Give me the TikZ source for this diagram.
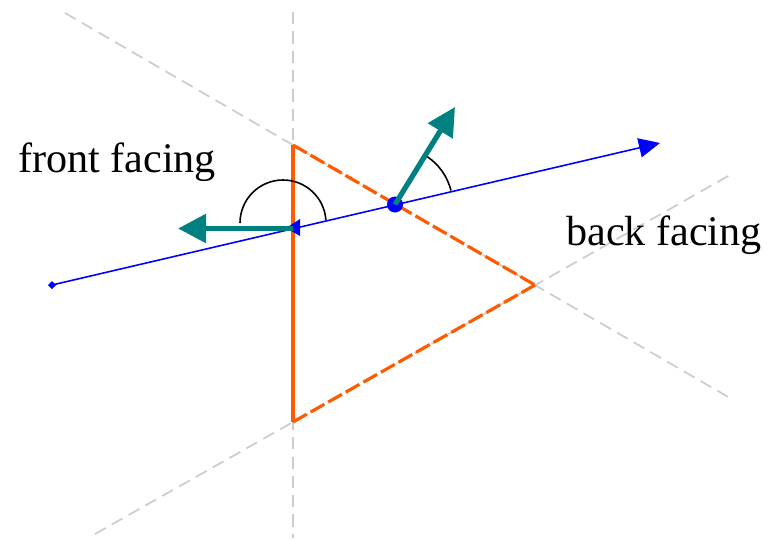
\documentclass[tikz,border=0pt]{standalone}
\usepackage{fontspec}
\setmainfont{Liberation Serif}
\usetikzlibrary{arrows.meta}

\definecolor{edgeorange}{RGB}{255,90,0}
\definecolor{guidegray}{RGB}{205,205,205}
\definecolor{normalteal}{RGB}{0,128,128}
\definecolor{rayblue}{RGB}{0,0,255}

\begin{document}
\begin{tikzpicture}[x=0.02cm,y=-0.02cm,
    guide/.style={guidegray, line width=1pt, dash pattern=on 7pt off 4pt},
    edge/.style={edgeorange, line width=1.8pt},
    normal/.style={normalteal, line width=3pt, -{Triangle[length=16pt,width=16pt]}},
    angarc/.style={black, line width=0.9pt},
    label/.style={font=\fontsize{24}{28}\selectfont, inner sep=0pt}]

    \useasboundingbox (0,0) rectangle (768,538);

    % 三角形顶点
    \coordinate (A) at (293,145);
    \coordinate (B) at (293,422);
    \coordinate (C) at (535,285);

    % 灰色虚线
    \draw[guide] (293,12) -- (293,538);
    \draw[guide] (65,13) -- (730,398);
    \draw[guide] (95,534) -- (730,175);

    % 三角形的边
    \draw[edge] (A) -- (B);
    \draw[edge, dash pattern=on 9pt off 2.5pt] (A) -- (C);
    \draw[edge, dash pattern=on 9pt off 2.5pt] (B) -- (C);

    % 光线
    \coordinate (S) at (52,285);
    \coordinate (E) at (660,143);
    \coordinate (P) at (293,228.5);
    \coordinate (Q) at (395,204.5);
    \draw[rayblue, line width=0.9pt, -{Triangle[length=12pt,width=11pt]}] (S) -- (E);
    \fill[rayblue] (S) +(-4,0) -- +(0,-4) -- +(4,0) -- +(0,4) -- cycle;
    \fill[rayblue] (286,228) -- (300,219) -- (300,236) -- cycle;
    \fill[rayblue] (Q) circle (8);

    % 法线
    \draw[normal] (P) -- (178,228.5);
    \draw[normal] (Q) -- (455,107);

    % 角度
    \draw[angarc] (240,223) arc (180:356:43);
    \draw[angarc] (Q) ++(-56:57.7) arc (-56:-14:57.7);

    % 插入文字
    \node[label] (front) at (117,162) {front facing};
    \node[label] (back) at (664,235) {back facing};

  \end{tikzpicture}
\end{document}
